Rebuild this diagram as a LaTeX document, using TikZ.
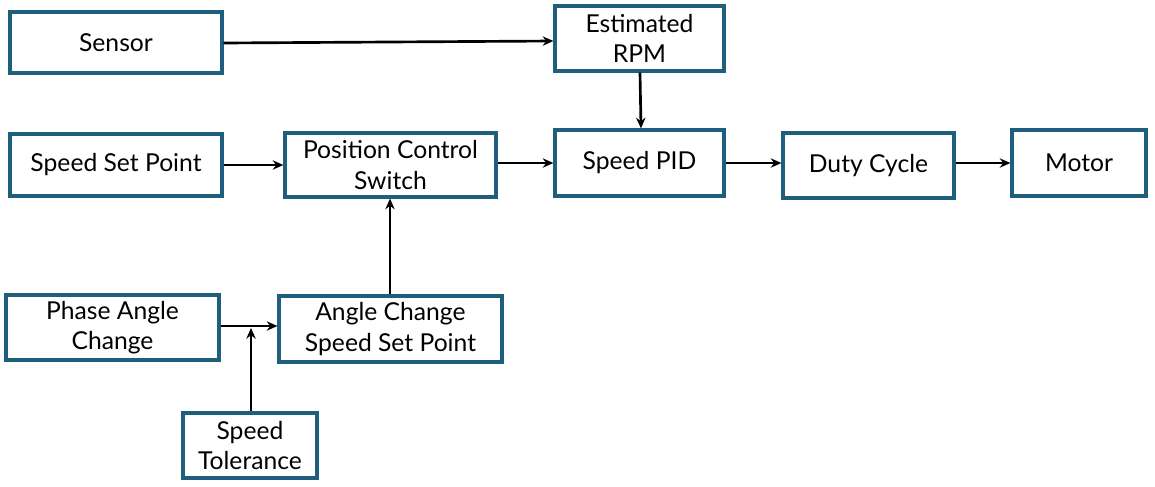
\documentclass[tikz,border=0pt]{standalone}
\usepackage{fontspec}
\setmainfont{Lato}
\usetikzlibrary{arrows.meta}
\definecolor{boxc}{HTML}{1F5F7E}
\begin{document}
\begin{tikzpicture}[x=0.75pt,y=-0.75pt,
  blk/.style={draw=boxc,line width=2.4pt,rectangle,inner sep=0pt,align=center,font=\fontsize{18.5}{23}\selectfont},
  arr/.style={-{Stealth[length=8pt,width=7pt]},line width=2pt,black}]
\useasboundingbox (0,0) rectangle (1155,486);
\newcommand{\bx}[6]{\node[blk,minimum width={(#4-#2)*0.75pt},minimum height={(#5-#3)*0.75pt}] (#1) at ({(#2+#4)/2},{(#3+#5)/2}) {#6};}
\bx{sensor}{10}{12}{222}{73}{Sensor}
\bx{est}{555}{6}{724}{71}{Estimated\\RPM}
\bx{ssp}{10}{134}{222}{196}{Speed Set Point}
\bx{pcs}{285}{133}{496}{197}{Position Control\\Switch}
\bx{pid}{555}{130}{724}{196}{Speed PID}
\bx{duty}{783}{133}{954}{198}{Duty Cycle}
\bx{motor}{1012}{130}{1146}{196}{Motor}
\bx{pac}{6}{295}{219}{360}{Phase Angle\\Change}
\bx{acs}{279}{296}{502}{362}{Angle Change\\Speed Set Point}
\bx{tol}{183}{413}{317}{478}{Speed\\Tolerance}
\coordinate (j) at (251,326);
\draw[arr] (sensor.east |- 0,43) -- (est.west |- 0,41);
\draw[arr] (est.south -| 640,0) -- (pid.north -| 641,0);
\draw[arr] (ssp.east |- 0,165) -- (pcs.west |- 0,165);
\draw[arr] (pcs.east |- 0,163) -- (pid.west |- 0,163);
\draw[arr] (pid.east |- 0,163) -- (duty.west |- 0,163);
\draw[arr] (duty.east |- 0,163) -- (motor.west |- 0,163);
\draw[arr] (acs.north -| 390,0) -- (pcs.south -| 390,0);
\draw[arr] (pac.east |- 0,326) -- (acs.west |- 0,326);
\draw[arr] (tol.north -| j) -- ([yshift=-1.5pt]j);
\end{tikzpicture}
\end{document}
